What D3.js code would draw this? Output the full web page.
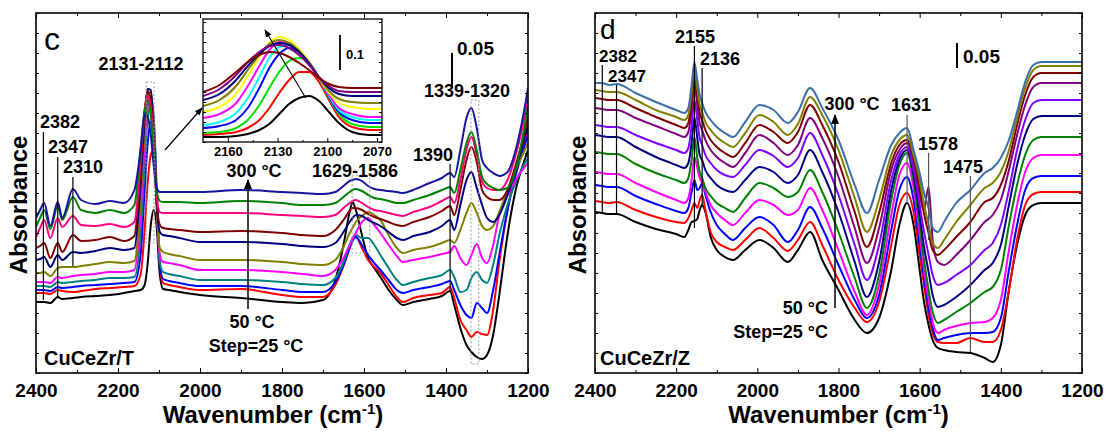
<!DOCTYPE html>
<html><head><meta charset="utf-8">
<script src="https://cdn.jsdelivr.net/npm/d3@7"></script>
<style>body{margin:0;background:#fff}svg{display:block}text{font-family:Arial,"Liberation Sans",sans-serif}</style>
</head><body>
<script>
// ---------------- DATA ----------------
// temperatures (°C) of the spectra, bottom -> top
const temperatures = [50, 75, 100, 125, 150, 175, 200, 225, 250, 275, 300];
// Panel c (CuCeZr/T): wavenumbers (cm-1) and absorbance (a.u., 35 a.u. = 0.05)
const cWavenumber = [2400,2390,2380,2365,2347,2336,2310,2290,2255,2220,2185,2160,2145,2135,2128,2120,2113,2106,2098,2090,2075,2050,2000,1900,1800,1750,1700,1670,1650,1635,1628,1620,1605,1590,1575,1560,1540,1520,1505,1480,1440,1410,1390,1380,1365,1350,1338,1325,1312,1300,1285,1270,1250,1230,1210,1200];
const c050 = [71,71,71,70,76,74,75,76,77,78,80,82,83,88,108,148,163,148,98,84,83,81,78,75,71,70,73,93,128,161,171,163,138,115,105,96,83,73,68,71,74,77,82,68,45,28,21,16,14,18,38,78,138,183,211,223];
const c075 = [80,80,80,79,83,82,81,82,84,85,86,87,98,143,188,218,223,183,108,90,88,86,83,84,78,76,76,88,107,125,133,136,125,113,106,100,88,76,71,75,78,80,86,75,53,43,36,41,39,38,63,111,163,203,230,243];
const c100 = [83,83,83,82,86,85,86,87,88,89,90,91,118,183,228,251,251,188,108,94,92,90,87,87,83,81,81,91,108,125,132,136,128,118,110,103,93,83,80,83,86,89,92,83,68,58,55,70,65,60,83,118,163,198,225,238];
const c125 = [87,87,87,86,91,90,91,92,93,95,95,96,138,208,253,267,258,178,111,101,99,97,93,93,91,89,88,95,111,128,135,138,135,135,128,118,105,93,88,91,95,98,103,96,81,83,95,101,93,90,108,138,168,191,208,215];
const c150 = [91,91,91,90,96,95,97,98,99,101,101,103,158,228,265,276,253,173,118,111,110,108,103,103,101,99,97,103,115,128,134,140,151,155,148,140,128,117,111,113,116,119,121,127,115,108,118,129,115,110,128,158,178,193,205,210];
const c175 = [100,100,101,97,105,106,106,107,109,111,110,112,173,243,275,281,248,168,125,121,119,117,113,113,111,109,108,113,126,140,145,151,157,161,158,153,138,125,120,123,126,130,133,130,143,160,170,160,147,143,147,161,183,203,221,230];
const c200 = [113,114,116,106,118,113,121,120,122,125,123,125,188,253,284,283,243,173,141,138,137,135,131,131,129,127,126,130,141,151,155,158,157,153,150,147,141,135,133,137,141,147,153,143,168,193,201,185,168,155,151,158,178,203,233,248];
const c225 = [125,127,130,115,130,121,138,132,133,136,132,137,203,261,282,273,233,173,148,145,144,143,141,142,140,138,137,143,153,162,165,165,163,159,156,154,151,148,147,151,156,162,167,158,183,213,226,211,183,176,173,173,183,208,238,256];
const c250 = [136,145,153,135,155,146,157,148,147,149,146,151,213,263,277,265,228,178,161,160,160,160,160,160,158,157,156,158,165,170,172,173,170,166,163,162,160,158,157,161,166,172,176,170,193,223,236,218,191,185,183,183,193,218,253,273];
const c275 = [146,155,163,144,167,153,176,163,160,163,160,168,223,263,272,258,223,183,172,171,171,171,170,172,170,168,168,170,176,181,183,184,182,178,175,174,172,170,170,173,178,183,186,180,203,230,241,223,196,189,185,183,185,203,243,266];
const c300 = [155,163,170,147,171,155,184,173,169,172,170,183,223,259,257,238,208,185,181,181,181,181,181,183,181,180,179,181,187,192,193,194,192,187,184,183,182,181,180,183,190,195,200,196,223,255,265,245,213,205,200,197,201,223,261,285];

// Inset of panel c (2175-2067 cm-1), a.u. (35 a.u. = 0.1)
const iWavenumber = [2175,2165,2155,2148,2141,2135,2129,2123,2117,2111,2105,2099,2093,2085,2075,2067];
const i050 = [5,5,6,8,12,18,28,38,44,46,41,30,19,10,7,7];
const i075 = [7,8,10,14,22,34,49,62,70,70,60,42,25,15,12,12];
const i100 = [9,10,14,22,37,54,70,81,84,79,64,44,28,18,15,15];
const i125 = [14,16,22,34,54,74,88,94,90,80,64,45,30,22,19,19];
const i150 = [17,20,29,44,65,84,95,97,90,79,64,46,32,25,22,22];
const i175 = [24,28,39,56,76,92,100,99,91,79,64,47,34,28,25,25];
const i200 = [30,35,48,66,85,99,105,102,93,80,64,49,39,35,33,33];
const i225 = [36,42,56,72,87,98,102,99,91,79,64,51,43,40,39,39];
const i250 = [42,48,62,76,88,96,99,97,90,79,65,54,48,46,46,46];
const i275 = [46,53,67,80,90,96,97,94,87,77,65,56,51,50,50,50];
const i300 = [50,57,70,80,87,90,89,85,79,72,64,58,55,54,54,54];

// Panel d (CuCeZr/Z), a.u. (25 a.u. = 0.05)
const dWavenumber = [2400,2382,2365,2347,2300,2250,2200,2180,2170,2162,2155,2148,2142,2136,2128,2115,2100,2080,2060,2030,1995,1960,1925,1900,1870,1840,1800,1760,1730,1700,1670,1650,1631,1615,1600,1590,1578,1568,1555,1540,1510,1475,1440,1420,1400,1380,1360,1340,1320,1300,1280,1200];
const d050 = [161,160,159,159,151,144,139,136,143,151,152,154,163,168,161,136,123,116,113,123,133,125,111,123,141,113,83,53,40,55,103,148,170,148,103,73,48,33,25,23,21,20,15,11,28,83,128,158,168,170,170,170];
const d075 = [172,171,170,171,163,156,151,150,155,163,170,165,173,178,163,141,131,126,123,133,145,135,122,133,151,128,93,65,51,71,128,168,180,161,118,90,58,40,31,30,30,35,31,31,43,83,133,168,179,181,181,181];
const d100 = [188,187,186,186,177,169,162,160,165,181,193,183,185,190,178,161,148,139,133,145,156,148,131,143,166,145,108,73,55,78,143,183,196,173,128,98,65,45,33,35,38,40,40,41,55,103,148,183,195,197,197,197];
const d125 = [201,200,199,199,190,181,173,170,175,193,216,205,195,190,181,168,160,153,148,160,173,168,158,163,185,163,123,81,58,88,158,198,210,185,138,105,73,51,40,43,47,50,51,55,73,123,168,201,215,218,218,218];
const d150 = [221,220,219,219,209,200,193,190,195,213,236,215,201,195,185,177,170,165,161,175,190,185,176,181,203,181,141,95,65,98,173,208,220,193,148,115,83,61,50,53,61,70,81,86,103,148,188,218,233,236,236,236];
const d175 = [238,237,236,236,226,216,208,205,210,230,256,235,218,213,203,195,188,183,181,193,206,201,190,198,223,201,161,111,76,111,183,213,223,198,158,128,101,78,66,68,76,88,103,110,128,168,208,238,254,257,257,257];
const d200 = [248,247,246,246,238,230,223,220,225,247,273,253,235,228,218,210,203,198,196,208,223,217,206,215,240,218,178,128,93,128,193,218,226,203,168,143,118,98,88,90,98,108,123,130,148,183,223,253,270,273,273,273];
const d225 = [265,264,263,263,255,247,239,236,241,263,288,268,250,243,233,223,216,210,206,220,238,230,218,228,255,235,196,145,110,145,203,223,230,211,178,163,186,133,111,108,118,133,151,158,173,203,238,268,286,290,290,290];
const d250 = [275,274,273,273,265,256,248,245,250,273,298,278,260,253,243,233,226,220,216,230,248,241,230,241,268,248,211,161,126,160,210,228,233,215,185,161,140,123,118,123,136,151,171,175,188,213,248,278,296,300,300,300];
const d275 = [283,282,281,281,273,263,256,253,258,281,305,285,268,261,251,243,236,230,226,240,258,251,238,249,276,258,223,175,141,173,218,233,238,218,193,170,148,130,125,133,151,168,185,190,201,223,255,285,303,307,307,307];
const d300 = [290,290,288,289,280,271,263,260,265,288,311,293,278,270,261,253,246,240,236,251,268,263,250,261,285,265,233,188,160,193,228,240,245,223,200,181,165,145,141,151,170,183,200,205,215,233,261,291,308,311,311,311];

const axisTicks = [2400, 2200, 2000, 1800, 1600, 1400, 1200];
const minorTicks = [2300, 2100, 1900, 1700, 1500, 1300];
const insetTicks = [2160, 2130, 2100, 2070];
const cPeakLines = [2382, 2347, 2310, 1390];
const dPeakLines = [2382, 2347, 2155, 2136, 1631, 1578, 1475];

// ---------------- STYLE ----------------
const cColors = ["#000000","#ff0000","#0000ff","#008080","#ff00ff","#808000","#000080","#800000","#ff0080","#008000","#1414a0"];
const iColors = ["#000000","#ff0000","#00e000","#0000ff","#00ffff","#ff00ff","#ffff00","#808000","#000080","#800080","#800000"];
const dColors = ["#000000","#ff0000","#0000ff","#ff00ff","#008000","#000080","#8000ff","#800080","#800000","#808000","#3b6fa8"];

const W = 1109, H = 437, TOP = 13, BOT = 373;
const svg = d3.select("body").append("svg").attr("width", W).attr("height", H);
const defs = svg.append("defs");
function marker(id, len) {
  defs.append("marker").attr("id", id).attr("viewBox", "0 0 10 10").attr("refX", 9).attr("refY", 5)
    .attr("markerWidth", len).attr("markerHeight", len).attr("markerUnits", "userSpaceOnUse").attr("orient", "auto")
    .append("path").attr("d", "M0,1 L10,5 L0,9 z").attr("fill", "#000");
}
marker("ahBig", 10); marker("ahSmall", 8);

function txt(g, x, y, s, size, anchor, weight) {
  return g.append("text").attr("x", x).attr("y", y).attr("font-size", size)
    .attr("font-weight", weight || "bold").attr("text-anchor", anchor || "middle").attr("fill", "#000").text(s);
}
function vline(g, x, y1, y2, color) {
  g.append("line").attr("x1", x).attr("x2", x).attr("y1", y1).attr("y2", y2)
    .attr("stroke", color || "#000").attr("stroke-width", 1.2);
}
function dashBox(g, xa, xb, y1, y2) {
  g.append("rect").attr("x", Math.min(xa, xb)).attr("y", y1).attr("width", Math.abs(xb - xa)).attr("height", y2 - y1)
    .attr("fill", "none").attr("stroke", "#999").attr("stroke-width", 1).attr("stroke-dasharray", "2,2");
}

function panel(name, x0, x1, wn, series, colors) {
  const g = svg.append("g");
  const x = d3.scaleLinear().domain([2400, 1200]).range([x0, x1]);
  const y = d3.scaleLinear().domain([0, 360]).range([BOT, TOP]);
  defs.append("clipPath").attr("id", "clip" + name).append("rect")
    .attr("x", x0).attr("y", TOP).attr("width", x1 - x0).attr("height", BOT - TOP);
  const line = d3.line().x((d, i) => x(wn[i])).y(d => y(d)).curve(d3.curveMonotoneX);
  const cg = g.append("g").attr("clip-path", `url(#clip${name})`);
  series.forEach((s, i) => cg.append("path").attr("d", line(s)).attr("fill", "none")
    .attr("stroke", colors[i]).attr("stroke-width", 2).attr("stroke-linejoin", "round"));
  const fontAxis = sel => { sel.select(".domain").remove(); sel.selectAll("text").attr("font-size", 19).attr("font-weight", "bold").attr("fill", "#000"); sel.selectAll("line").attr("stroke", "#000"); };
  g.append("g").attr("transform", `translate(0,${BOT})`)
    .call(d3.axisBottom(x).tickValues(axisTicks).tickSizeInner(-5).tickSizeOuter(0).tickPadding(11).tickFormat(d3.format("d"))).call(fontAxis);
  g.append("g").attr("transform", `translate(0,${BOT})`)
    .call(d3.axisBottom(x).tickValues(minorTicks).tickSizeInner(-3).tickSizeOuter(0).tickFormat("")).call(fontAxis);
  g.append("g").attr("transform", `translate(0,${TOP})`)
    .call(d3.axisTop(x).tickValues(axisTicks).tickSizeInner(-5).tickSizeOuter(0).tickFormat("")).call(fontAxis);
  g.append("g").attr("transform", `translate(0,${TOP})`)
    .call(d3.axisTop(x).tickValues(minorTicks).tickSizeInner(-3).tickSizeOuter(0).tickFormat("")).call(fontAxis);
  g.append("g").attr("transform", `translate(${x0},0)`)
    .call(d3.axisLeft(y).ticks(18).tickSizeInner(-3).tickSizeOuter(0).tickFormat("")).call(fontAxis);
  g.append("g").attr("transform", `translate(${x1},0)`)
    .call(d3.axisRight(y).ticks(18).tickSizeInner(-3).tickSizeOuter(0).tickFormat("")).call(fontAxis);
  g.append("rect").attr("x", x0).attr("y", TOP).attr("width", x1 - x0).attr("height", BOT - TOP)
    .attr("fill", "none").attr("stroke", "#000").attr("stroke-width", 1.6);
  const cx = (x0 + x1) / 2 - (name === "c" ? 9 : 0);
  const t = g.append("text").attr("x", cx).attr("y", 423).attr("font-size", 24).attr("font-weight", "bold").attr("text-anchor", "middle");
  t.append("tspan").text("Wavenumber (cm");
  t.append("tspan").attr("font-size", 15).attr("dy", -9).text("-1");
  t.append("tspan").attr("dy", 9).text(")");
  const yl = x0 - 9;
  g.append("text").attr("transform", `translate(${yl},205) rotate(-90)`).attr("font-size", 24)
    .attr("font-weight", "bold").attr("text-anchor", "middle").text("Absorbance");
  return { g, x, y };
}

// ---------- Panel c ----------
const pc = panel("c", 36, 528, cWavenumber, [c050, c075, c100, c125, c150, c175, c200, c225, c250, c275, c300], cColors);
{
  const g = pc.g, x = pc.x, y = pc.y;
  txt(g, 44, 50, "c", 32, "start", "normal");
  vline(g, x(cPeakLines[0]), 132, 300);
  vline(g, x(cPeakLines[1]), 157, 298);
  vline(g, x(cPeakLines[2]), 177, 266);
  vline(g, x(cPeakLines[3]), 164, 292);
  txt(g, 60, 128, "2382", 18); txt(g, 68, 153, "2347", 18); txt(g, 83, 173, "2310", 18);
  txt(g, 141, 70, "2131-2112", 18);
  dashBox(g, x(2131), x(2112), 82, 243);
  dashBox(g, x(1629), x(1586), 175, 253);
  dashBox(g, x(1339), x(1320), 100, 364);
  txt(g, 355, 177, "1629-1586", 18);
  txt(g, 433, 161, "1390", 18);
  txt(g, 467, 97, "1339-1320", 18);
  g.append("line").attr("x1", 452).attr("x2", 452).attr("y1", y(320)).attr("y2", y(320) + (y(0) - y(35)))
    .attr("stroke", "#000").attr("stroke-width", 2);
  txt(g, 457, 55, "0.05", 19, "start");
  g.append("line").attr("x1", 248).attr("x2", 248).attr("y1", 309).attr("y2", 180)
    .attr("stroke", "#000").attr("stroke-width", 1.5).attr("marker-end", "url(#ahBig)");
  txt(g, 254, 177, "300 °C", 18);
  txt(g, 252, 328, "50 °C", 18);
  txt(g, 256, 352, "Step=25 °C", 18);
  txt(g, 44, 365, "CuCeZr/T", 20, "start");
  g.append("line").attr("x1", 165).attr("y1", 150).attr("x2", 202).attr("y2", 108)
    .attr("stroke", "#000").attr("stroke-width", 1.2).attr("marker-end", "url(#ahSmall)");

  // inset
  const ix = d3.scaleLinear().domain([2175, 2067]).range([203, 382]);
  const iy = d3.scaleLinear().domain([0, 123]).range([142, 19]);
  const ig = g.append("g");
  ig.append("rect").attr("x", 203).attr("y", 19).attr("width", 179).attr("height", 123).attr("fill", "#fff");
  defs.append("clipPath").attr("id", "clipI").append("rect").attr("x", 203).attr("y", 19).attr("width", 179).attr("height", 123);
  const il = d3.line().x((d, i) => ix(iWavenumber[i])).y(d => iy(d)).curve(d3.curveMonotoneX);
  const icg = ig.append("g").attr("clip-path", "url(#clipI)");
  [i050, i075, i100, i125, i150, i175, i200, i225, i250, i275, i300].forEach((s, i) =>
    icg.append("path").attr("d", il(s)).attr("fill", "none").attr("stroke", iColors[i]).attr("stroke-width", 2));
  const clean = sel => { sel.select(".domain").remove(); sel.selectAll("line").attr("stroke", "#000"); sel.selectAll("text").attr("font-size", 13).attr("font-weight", "bold").attr("fill", "#000"); };
  ig.append("g").attr("transform", "translate(0,142)")
    .call(d3.axisBottom(ix).tickValues(insetTicks).tickSizeInner(-4).tickSizeOuter(0).tickPadding(5).tickFormat(d3.format("d"))).call(clean);
  ig.append("g").attr("transform", "translate(0,142)")
    .call(d3.axisBottom(ix).tickValues([2145, 2115, 2085]).tickSizeInner(-2).tickSizeOuter(0).tickFormat("")).call(clean);
  ig.append("g").attr("transform", "translate(203,0)")
    .call(d3.axisLeft(iy).ticks(12).tickSizeInner(-3).tickSizeOuter(0).tickFormat("")).call(clean);
  ig.append("g").attr("transform", "translate(382,0)")
    .call(d3.axisRight(iy).ticks(12).tickSizeInner(-3).tickSizeOuter(0).tickFormat("")).call(clean);
  ig.append("rect").attr("x", 203).attr("y", 19).attr("width", 179).attr("height", 123)
    .attr("fill", "none").attr("stroke", "#000").attr("stroke-width", 1.3);
  ig.append("line").attr("x1", 340).attr("x2", 340).attr("y1", 35).attr("y2", 35 + (iy(0) - iy(35)))
    .attr("stroke", "#000").attr("stroke-width", 1.8);
  txt(ig, 346, 59, "0.1", 13, "start");
  ig.append("line").attr("x1", ix(2113)).attr("y1", iy(44)).attr("x2", 265).attr("y2", 30)
    .attr("stroke", "#000").attr("stroke-width", 1.1).attr("marker-end", "url(#ahSmall)");
}

// ---------- Panel d ----------
const pd = panel("d", 595, 1082, dWavenumber, [d050, d075, d100, d125, d150, d175, d200, d225, d250, d275, d300], dColors);
{
  const g = pd.g, x = pd.x, y = pd.y;
  txt(g, 600, 39, "d", 28, "start", "normal");
  vline(g, x(dPeakLines[0]), 65, 213);
  vline(g, x(dPeakLines[1]), 85, 215);
  vline(g, x(dPeakLines[2]), 46, 228);
  vline(g, x(dPeakLines[3]), 68, 207);
  vline(g, x(dPeakLines[4]), 115, 203, "#555");
  vline(g, x(dPeakLines[5]), 153, 240, "#555");
  vline(g, x(dPeakLines[6]), 176, 352, "#555");
  txt(g, 618, 62, "2382", 17); txt(g, 627, 82, "2347", 17);
  txt(g, 695, 43, "2155", 18); txt(g, 720, 65, "2136", 18);
  txt(g, 911, 111, "1631", 18); txt(g, 938, 150, "1578", 18); txt(g, 963, 173, "1475", 18);
  g.append("line").attr("x1", 957).attr("x2", 957).attr("y1", 43).attr("y2", 43 + (y(0) - y(25)))
    .attr("stroke", "#000").attr("stroke-width", 2);
  txt(g, 963, 63, "0.05", 19, "start");
  g.append("line").attr("x1", 835).attr("x2", 835).attr("y1", 308).attr("y2", 115)
    .attr("stroke", "#000").attr("stroke-width", 1.5).attr("marker-end", "url(#ahBig)");
  txt(g, 852, 110, "300 °C", 18);
  txt(g, 828, 314, "50 °C", 18, "end");
  txt(g, 828, 338, "Step=25 °C", 18, "end");
  txt(g, 600, 365, "CuCeZr/Z", 20, "start");
}
</script>
</body></html>
